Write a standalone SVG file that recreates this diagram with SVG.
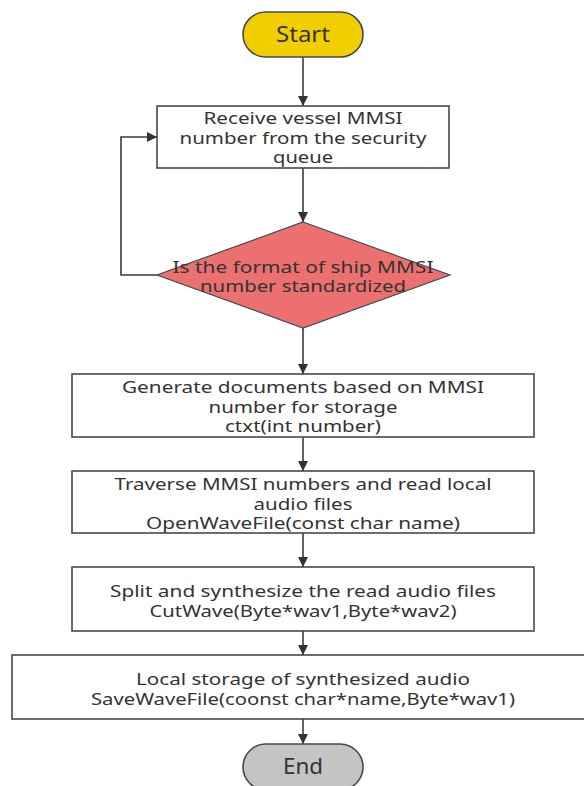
<svg xmlns="http://www.w3.org/2000/svg" width="584" height="786" viewBox="0 0 584 786">
  <defs>
    <marker id="arrow" viewBox="0 0 10 10" refX="10" refY="5" markerWidth="10" markerHeight="10" markerUnits="userSpaceOnUse" orient="auto">
      <path d="M0,0 L10,5 L0,10 Z" fill="#333"/>
    </marker>
    <style>
      .box { fill: #ffffff; stroke: #454a50; stroke-width: 1.6; }
      .start { fill: #f2ce00; stroke: #454a50; stroke-width: 1.6; }
      .end { fill: #c4c4c4; stroke: #454a50; stroke-width: 1.6; }
      .decision { fill: #ec7070; stroke: #454a50; stroke-width: 1.2; }
      .edge { fill: none; stroke: #3a3a3a; stroke-width: 1.6; marker-end: url(#arrow); }
      text { font-family: "Noto Sans", "Open Sans", "DejaVu Sans", sans-serif; font-size: 17px; fill: #333333; text-anchor: middle; dominant-baseline: central; }
      .term { font-size: 21px; }
    </style>
  </defs>

  <rect width="584" height="786" fill="#ffffff"/>

  <!-- connectors -->
  <g id="connectors">
    <line class="edge" x1="303" y1="57" x2="303" y2="106"/>
    <line class="edge" x1="303" y1="168" x2="303" y2="222"/>
    <polyline class="edge" points="157,275 121,275 121,137 157,137"/>
    <line class="edge" x1="303" y1="328" x2="303" y2="374"/>
    <line class="edge" x1="303" y1="437" x2="303" y2="471"/>
    <line class="edge" x1="303" y1="533" x2="303" y2="567"/>
    <line class="edge" x1="303" y1="631" x2="303" y2="655"/>
    <line class="edge" x1="303" y1="719" x2="303" y2="744"/>
  </g>

  <!-- start terminal -->
  <g id="start">
    <rect class="start" x="243" y="12" width="120" height="45" rx="22.5"/>
    <text class="term" x="303" y="34" textLength="54" lengthAdjust="spacingAndGlyphs">Start</text>
  </g>

  <!-- receive MMSI -->
  <g id="receive">
    <rect class="box" x="157" y="106" width="292" height="62"/>
    <text x="303" y="117" textLength="199" lengthAdjust="spacingAndGlyphs">Receive vessel MMSI</text>
    <text x="303" y="137" textLength="247" lengthAdjust="spacingAndGlyphs">number from the security</text>
    <text x="303" y="156" textLength="60" lengthAdjust="spacingAndGlyphs">queue</text>
  </g>

  <!-- format check -->
  <g id="check">
    <polygon class="decision" points="303,222 450,275 303,328 157,275"/>
    <text x="303" y="266" textLength="261" lengthAdjust="spacingAndGlyphs">Is the format of ship MMSI</text>
    <text x="303" y="285" textLength="206" lengthAdjust="spacingAndGlyphs">number standardized</text>
  </g>

  <!-- generate documents -->
  <g id="generate">
    <rect class="box" x="72" y="374" width="462" height="63"/>
    <text x="303" y="386" textLength="362" lengthAdjust="spacingAndGlyphs">Generate documents based on MMSI</text>
    <text x="303" y="406" textLength="189" lengthAdjust="spacingAndGlyphs">number for storage</text>
    <text x="303" y="425" textLength="156" lengthAdjust="spacingAndGlyphs">ctxt(int number)</text>
  </g>

  <!-- traverse and read -->
  <g id="traverse">
    <rect class="box" x="72" y="471" width="462" height="62"/>
    <text x="303" y="483" textLength="377" lengthAdjust="spacingAndGlyphs">Traverse MMSI numbers and read local</text>
    <text x="303" y="503" textLength="99" lengthAdjust="spacingAndGlyphs">audio files</text>
    <text x="303" y="522" textLength="314" lengthAdjust="spacingAndGlyphs">OpenWaveFile(const char name)</text>
  </g>

  <!-- split and synthesize -->
  <g id="split">
    <rect class="box" x="72" y="567" width="462" height="64"/>
    <text x="303" y="590" textLength="386" lengthAdjust="spacingAndGlyphs">Split and synthesize the read audio files</text>
    <text x="303" y="610" textLength="307" lengthAdjust="spacingAndGlyphs">CutWave(Byte*wav1,Byte*wav2)</text>
  </g>

  <!-- local storage -->
  <g id="save">
    <rect class="box" x="12" y="655" width="580" height="64"/>
    <text x="303" y="678" textLength="334" lengthAdjust="spacingAndGlyphs">Local storage of synthesized audio</text>
    <text x="303" y="698" textLength="424" lengthAdjust="spacingAndGlyphs">SaveWaveFile(coonst char*name,Byte*wav1)</text>
  </g>

  <!-- end terminal -->
  <g id="end">
    <rect class="end" x="243" y="744" width="120" height="46" rx="23"/>
    <text class="term" x="303" y="766" textLength="40" lengthAdjust="spacingAndGlyphs">End</text>
  </g>
</svg>
